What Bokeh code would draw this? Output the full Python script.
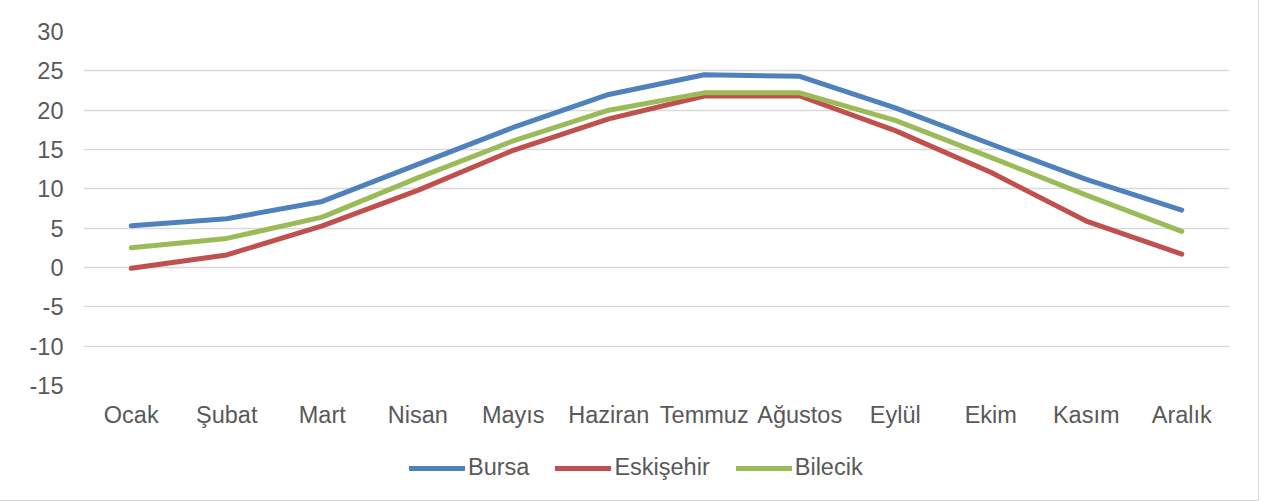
from bokeh.plotting import figure
from bokeh.models import Legend, LegendItem, FixedTicker, Range1d
from bokeh.layouts import column
from bokeh.embed import file_html
from bokeh.resources import INLINE

months = ["Ocak", "Şubat", "Mart", "Nisan", "Mayıs", "Haziran", "Temmuz",
          "Ağustos", "Eylül", "Ekim", "Kasım", "Aralık"]
bursa = [5.3, 6.2, 8.4, 13.1, 17.8, 22.0, 24.5, 24.3, 20.3, 15.7, 11.2, 7.3]
eskisehir = [-0.1, 1.6, 5.3, 9.8, 14.9, 18.9, 21.8, 21.8, 17.4, 12.1, 5.9, 1.7]
bilecik = [2.5, 3.7, 6.4, 11.4, 16.1, 20.0, 22.2, 22.2, 18.7, 14.0, 9.2, 4.6]
y_ticks = [-15, -10, -5, 0, 5, 10, 15, 20, 25, 30]

series = [("Bursa", bursa, "#4F81BD"),
          ("Eskişehir", eskisehir, "#C0504D"),
          ("Bilecik", bilecik, "#9BBB59")]

FONT = "Liberation Sans"
TXT = "#595959"

p = figure(x_range=months, y_range=Range1d(-15, 30), width=1258, height=430,
           min_border_left=83, min_border_right=29, min_border_top=31,
           min_border_bottom=45, output_backend="svg", toolbar_location=None)
p.outline_line_color = None

p.xgrid.grid_line_color = None
p.ygrid.grid_line_color = "#D9D9D9"
p.ygrid.grid_line_width = 1.5
p.yaxis.ticker = FixedTicker(ticks=y_ticks)
p.yaxis.major_label_overrides = {t: str(t) for t in y_ticks}

for ax in (p.xaxis[0], p.yaxis[0]):
    ax.axis_line_color = None
    ax.major_tick_line_color = None
    ax.minor_tick_line_color = None
    ax.major_tick_out = 0
    ax.major_tick_in = 0
    ax.major_label_text_font = FONT
    ax.major_label_text_font_size = "23.5px"
    ax.major_label_text_color = TXT
p.yaxis.major_label_standoff = 20
p.xaxis.major_label_standoff = 16

for name, vals, col in series:
    p.line(months, vals, line_color=col, line_width=5,
           line_cap="round", line_join="round")

# legend strip below the chart (its lines lie outside its visible range)
p2 = figure(x_range=months, y_range=Range1d(100, 101), width=1258, height=70,
            min_border_left=0, min_border_right=0, min_border_top=0,
            min_border_bottom=0, x_axis_location=None, y_axis_location=None,
            output_backend="svg", toolbar_location=None)
p2.outline_line_color = None
p2.grid.grid_line_color = None
items = []
for name, vals, col in series:
    r = p2.line(months, vals, line_color=col, line_width=5,
                line_cap="round", line_join="round")
    items.append(LegendItem(label=name, renderers=[r]))

legend = Legend(items=items, orientation="horizontal", location=(326, 19),
                padding=0, margin=0, spacing=26, label_standoff=3,
                glyph_width=56, glyph_height=20, label_height=20,
                label_text_font=FONT, label_text_font_size="23.5px",
                label_text_color=TXT, border_line_color=None,
                background_fill_alpha=0)
p2.add_layout(legend, "center")

layout = column(p, p2, spacing=0, styles={"outline": "1px solid #D9D9D9"})
open("out.html", "w").write(file_html(layout, INLINE))
